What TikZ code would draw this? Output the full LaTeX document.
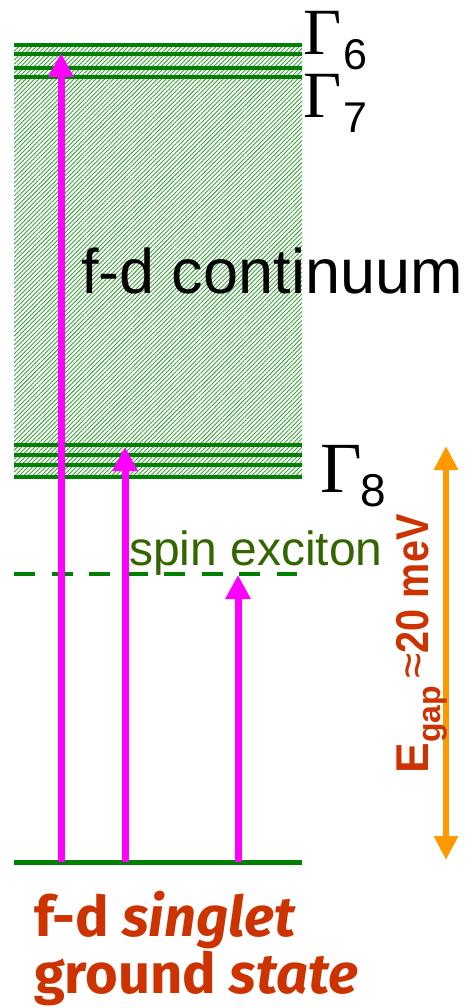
\documentclass[tikz,border=0pt]{standalone}
\usepackage{fontspec}
\usepackage{graphicx}
\setmainfont{Liberation Sans}
\newfontfamily\gserif{Liberation Serif}
\newfontfamily\gsans{Liberation Sans}
\newfontfamily\comicf{Fira Sans}
\usetikzlibrary{arrows.meta,patterns.meta}
\definecolor{lvl}{RGB}{0,128,0}
\definecolor{hatch}{RGB}{60,160,60}
\definecolor{spinc}{RGB}{51,102,0}
\definecolor{magen}{RGB}{255,0,255}
\definecolor{orng}{RGB}{255,153,0}
\definecolor{redor}{RGB}{204,51,0}
\tikzset{
  level/.style={draw=lvl,line width=4.5pt},
  exc/.style={draw=magen,line width=7pt,-{Triangle[width=24pt,length=24pt]}},
  gap/.style={draw=orng,line width=6pt,{Triangle[width=23pt,length=24pt]}-{Triangle[width=23pt,length=24pt]}},
  lab/.style={inner sep=0pt,outer sep=0pt}
}
\begin{document}
\begin{tikzpicture}[x=1pt,y=-1pt]
\useasboundingbox (0,0) rectangle (471,1008);
% continuum band
\fill[pattern={Lines[angle=45,distance=3.1pt,line width=0.9pt]},pattern color=hatch] (14,45) rectangle (302,477);
% level lines
\foreach \yy in {45,54,68,77,445,455,465,477}{
  \draw[level] (14,\yy) -- (302,\yy);
}
\coordinate (gl) at (14,862);
\coordinate (gr) at (302,862);
\draw[level,line width=5pt] (gl) -- (gr);
\coordinate (sl) at (14,574);
\coordinate (sr) at (297,574);
\draw[draw=lvl,line width=4pt,dash pattern=on 21pt off 16.5pt] (sl) -- (sr);
% labels
\node[lab,anchor=base west,font=\gserif\fontsize{66}{66}\selectfont] (G6) at (303,55) {Γ};
\node[lab,anchor=base west,font=\gsans\fontsize{43}{43}\selectfont] (G6s) at (343,70) {6};
\node[lab,anchor=base west,font=\gserif\fontsize{66}{66}\selectfont] (G7) at (303,118) {Γ};
\node[lab,anchor=base west,font=\gsans\fontsize{43}{43}\selectfont] (G7s) at (343,133) {7};
\node[lab,anchor=base west,font=\gserif\fontsize{72}{72}\selectfont] (G8) at (320,492) {Γ};
\node[lab,anchor=base west,font=\gsans\fontsize{46}{46}\selectfont] (G8s) at (360,506) {8};
\node[lab,anchor=base west,font=\gsans\fontsize{63}{63}\selectfont] (cont) at (81,293) {f-d continuum};
\node[lab,anchor=base west,text=spinc,font=\gsans\fontsize{48}{48}\selectfont] (spin) at (129,565) {spin exciton};
% excitation arrows
\coordinate (a1s) at (61,862);
\coordinate (a1e) at (61,53);
\coordinate (a2s) at (125,862);
\coordinate (a2e) at (125,447);
\coordinate (a3s) at (238,862);
\coordinate (a3e) at (238,575);
\draw[exc] (a1s) -- (a1e);
\draw[exc] (a2s) -- (a2e);
\draw[exc] (a3s) -- (a3e);
% gap arrow
\coordinate (gb) at (446,860);
\coordinate (gt) at (446,446);
\draw[gap] (gb) -- (gt);
\node[lab,anchor=base,rotate=90,text=redor,font=\gsans\bfseries\fontsize{46}{46}\selectfont] (egap) at (428,644)
  {E\raisebox{-0.28em}{\fontsize{32}{32}\selectfont gap}\,{\mdseries ≈}\scalebox{0.86}[1]{20 meV}};
% ground state
\node[lab,anchor=base west,text=redor,font=\comicf\bfseries\fontsize{56}{56}\selectfont] (gs1) at (34,936) {f-d \textit{singlet}};
\node[lab,anchor=base west,text=redor,font=\comicf\bfseries\fontsize{56}{56}\selectfont] (gs2) at (34,993) {ground \textit{state}};
\end{tikzpicture}
\end{document}
